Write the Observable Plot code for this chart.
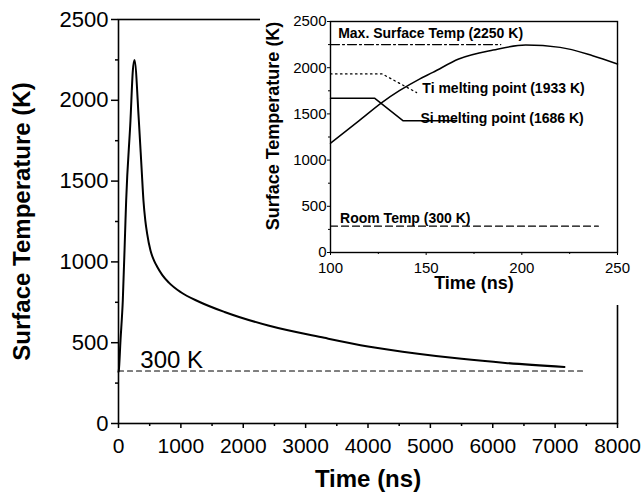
<!DOCTYPE html>
<html><head><meta charset="utf-8">
<script src="https://cdn.jsdelivr.net/npm/d3@7"></script>
<script src="https://cdn.jsdelivr.net/npm/@observablehq/plot@0.6"></script>
<style>
html,body{margin:0;padding:0;background:#fff;}
#wrap{position:relative;width:642px;height:500px;overflow:hidden;}
#inset{position:absolute;left:260px;top:0;}
svg{display:block;}
</style></head><body><div id="wrap"><div id="main"></div><div id="inset"></div></div>
<script>
// ---- Main chart data ----
const mainTime = [0, 5, 32, 69, 112, 123, 192, 230, 256, 326, 372, 400, 430, 459, 513, 570, 620, 700, 807, 1000, 1300, 1700, 2400, 3300, 4000, 4800, 5500, 6200, 7150];
const mainTemp = [320, 328, 514, 761, 1256, 1380, 1875, 2184, 2250, 1875, 1566, 1380, 1256, 1175, 1070, 1008, 970, 920, 872, 812, 752, 690, 606, 530, 477, 432, 400, 375, 350];
const roomTime = [0, 7500];
const roomTemp = [325, 325];
const mainXTicks = [0, 1000, 2000, 3000, 4000, 5000, 6000, 7000, 8000];
const mainXMinor = [500, 1500, 2500, 3500, 4500, 5500, 6500, 7500];
const mainYTicks = [0, 500, 1000, 1500, 2000, 2500];
const mainYMinor = [250, 750, 1250, 1750, 2250];
const mainRoomLabel = ["300 K"];
const mainXLabel = ["Time (ns)"];
const mainYLabel = ["Surface Temperature (K)"];

// ---- Inset data ----
const insetTime = [100, 115, 127, 136, 146.5, 153.5, 167, 185, 202, 220, 237, 250];
const insetTemp = [1182, 1427, 1625, 1751, 1877, 1949, 2094, 2191, 2245, 2220, 2130, 2040];
const maxTime = [100, 189];
const maxTemp = [2250, 2250];
const tiTime = [100, 127, 145];
const tiTemp = [1933, 1933, 1731];
const siTime = [100, 123, 138, 166];
const siTemp = [1670, 1670, 1425, 1425];
const insetRoomTime = [100, 240];
const insetRoomTemp = [285, 285];
const insetXTicks = [100, 150, 200, 250];
const insetXMinor = [125, 175, 225];
const insetYTicks = [0, 500, 1000, 1500, 2000, 2500];
const insetYMinor = [250, 750, 1250, 1750, 2250];
const insetLabels = ["Max. Surface Temp (2250 K)", "Ti melting point (1933 K)", "Si melting point (1686 K)", "Room Temp (300 K)"];
const insetLabelTime = [104, 148, 147, 105];
const insetLabelTemp = [2370, 1773, 1449, 368];
const insetXLabel = ["Time (ns)"];
const insetYLabel = ["Surface Temperature (K)"];

const font = "'Liberation Sans', Arial, Helvetica, sans-serif";
const pts = (xs, ys) => xs.map((x, i) => ({x, y: ys[i]}));
const fmt = d => String(d);

const main = Plot.plot({
  width: 642, height: 500,
  marginTop: 19, marginRight: 25, marginBottom: 77, marginLeft: 118,
  style: {fontFamily: font, background: "white", color: "black"},
  x: {domain: [0, 8000]},
  y: {domain: [0, 2500]},
  marks: [
    Plot.frame({stroke: "black", strokeWidth: 1.6}),
    Plot.axisY(mainYTicks, {tickSize: 7, tickPadding: 3, fontSize: 22, label: null, tickFormat: fmt, strokeWidth: 1.5}),
    Plot.axisY(mainYMinor, {tickSize: 3, text: null, label: null, strokeWidth: 1.5}),
    Plot.axisX(mainXTicks, {tickSize: 5, tickPadding: 10, fontSize: 21, label: null, tickFormat: fmt, strokeWidth: 1.5}),
    Plot.axisX(mainXMinor, {tickSize: 3, text: null, label: null, strokeWidth: 1.5}),
    Plot.line(pts(roomTime, roomTemp), {x: "x", y: "y", stroke: "black", strokeWidth: 1.2, strokeDasharray: "5,4"}),
    Plot.line(pts(mainTime, mainTemp), {x: "x", y: "y", stroke: "black", strokeWidth: 2, curve: "monotone-x"}),
    Plot.text(mainRoomLabel, {text: d => d, x: 350, y: 345, textAnchor: "start", lineAnchor: "bottom", fontSize: 24, fill: "black"}),
    Plot.text(mainYLabel, {text: d => d, frameAnchor: "left", textAnchor: "middle", rotate: -90, dx: -96, fontSize: 24, fontWeight: "bold", fill: "black"}),
    Plot.text(mainXLabel, {text: d => d, frameAnchor: "bottom", textAnchor: "middle", dy: 63, fontSize: 24, fontWeight: "bold", fill: "black"})
  ]
});
document.getElementById("main").appendChild(main);

const inset = Plot.plot({
  width: 382, height: 305,
  marginTop: 21, marginRight: 25, marginBottom: 53, marginLeft: 70,
  style: {fontFamily: font, background: "white", color: "black"},
  x: {domain: [100, 250]},
  y: {domain: [0, 2500]},
  marks: [
    Plot.frame({stroke: "black", strokeWidth: 1.4}),
    Plot.axisY(insetYTicks, {tickSize: 3, tickPadding: 1, fontSize: 15, label: null, tickFormat: fmt}),
    Plot.axisY(insetYMinor, {tickSize: 2, text: null, label: null}),
    Plot.axisX(insetXTicks, {tickSize: 3, tickPadding: 7, fontSize: 15, label: null, tickFormat: fmt}),
    Plot.axisX(insetXMinor, {tickSize: 2, text: null, label: null}),
    Plot.line(pts(maxTime, maxTemp), {x: "x", y: "y", stroke: "black", strokeWidth: 1.2, strokeDasharray: "9,3,2,3"}),
    Plot.line(pts(tiTime, tiTemp), {x: "x", y: "y", stroke: "black", strokeWidth: 1.3, strokeDasharray: "1.5,3.5"}),
    Plot.line(pts(siTime, siTemp), {x: "x", y: "y", stroke: "black", strokeWidth: 1.5}),
    Plot.line(pts(insetRoomTime, insetRoomTemp), {x: "x", y: "y", stroke: "black", strokeWidth: 1.2, strokeDasharray: "7,4"}),
    Plot.line(pts(insetTime, insetTemp), {x: "x", y: "y", stroke: "black", strokeWidth: 1.5, curve: "monotone-x"}),
    Plot.text(insetLabels, {text: d => d, x: (d, i) => insetLabelTime[i], y: (d, i) => insetLabelTemp[i], textAnchor: "start", fontSize: 14, fontWeight: "bold", fill: "black"}),
    Plot.text(insetYLabel, {text: d => d, frameAnchor: "left", textAnchor: "middle", rotate: -90, dx: -57, dy: -11, fontSize: 18, fontWeight: "bold", fill: "black"}),
    Plot.text(insetXLabel, {text: d => d, frameAnchor: "bottom", textAnchor: "middle", dy: 36, fontSize: 18, fontWeight: "bold", fill: "black"})
  ]
});
document.getElementById("inset").appendChild(inset);
</script>
</body></html>
